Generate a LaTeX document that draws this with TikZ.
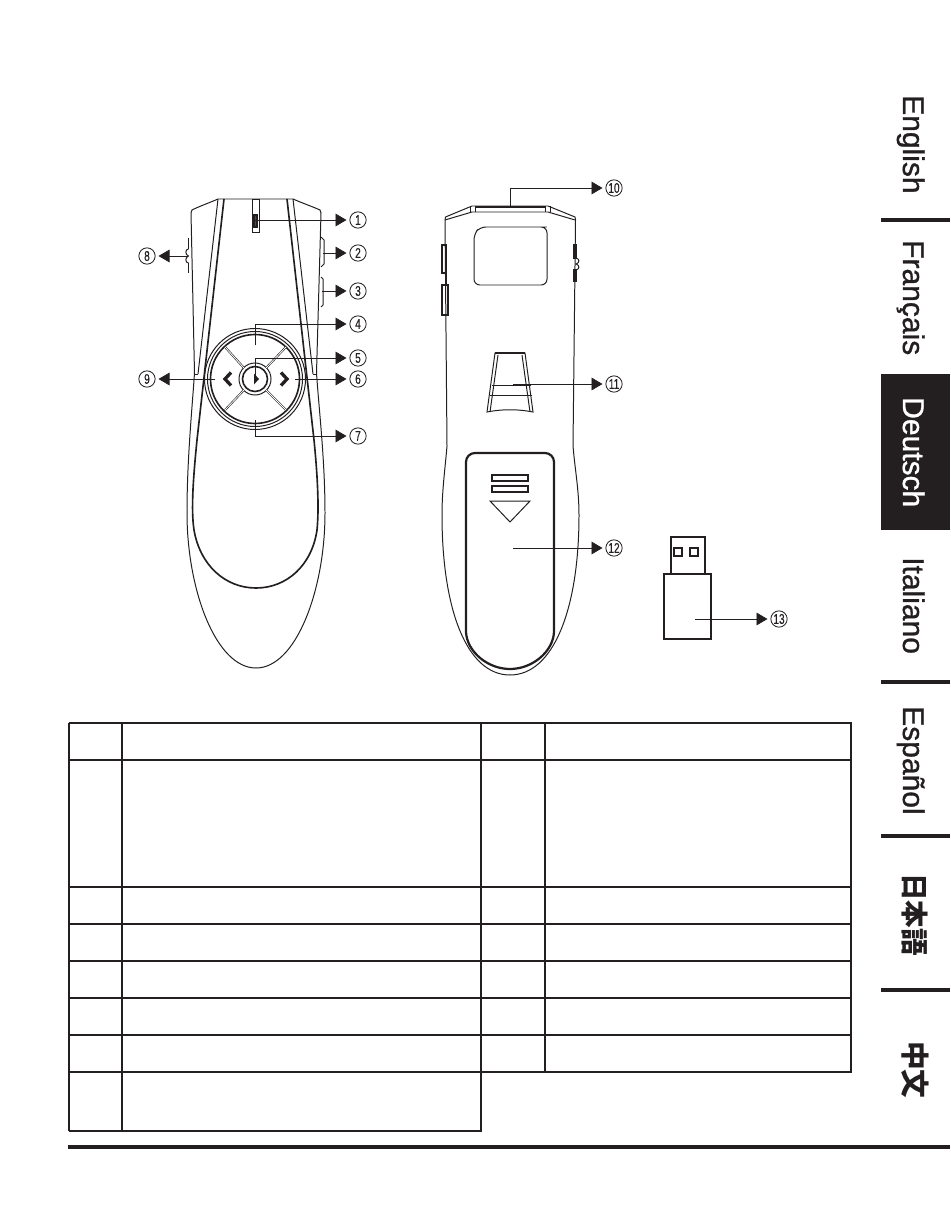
\documentclass[tikz,border=0pt]{standalone}
\usepackage{fontspec}
\setmainfont{Liberation Sans}
\newfontfamily\tabfont{Liberation Sans}[FakeBold=1]
\newfontfamily\numfont{Liberation Sans}[FakeBold=0.2]
\newfontfamily\cjkfont{Noto Sans CJK JP}
\usetikzlibrary{arrows.meta}
\newcommand{\callnum}[1]{\scalebox{0.72}[1]{#1}}
\definecolor{tabdark}{HTML}{231F20}
\tikzset{
    callout/.style={draw=tabdark, circle, line width=0.7pt, inner sep=0pt, minimum size=0.49cm, outer sep=0.1cm, font=\numfont\fontsize{12}{14}\selectfont, text=tabdark},
    leader/.style={-{Triangle[length=0.33cm,width=0.38cm]}, line width=0.6pt, color=tabdark},
    body/.style={line width=0.85pt, color=tabdark},
    heavy/.style={line width=1.4pt, color=tabdark},
    cover/.style={line width=1.9pt, color=tabdark},
    keyline/.style={double, line width=0.5pt, double distance=0.7pt, draw=tabdark},
    tabrule/.style={line width=3.2pt, color=tabdark},
    cellrule/.style={line width=1.5pt, color=tabdark},
    language/.style={rotate=-90, anchor=base west, inner sep=0pt, font=\tabfont\fontsize{25.6}{30}\selectfont, color=tabdark}
}
\begin{document}
\begin{tikzpicture}[x=0.03cm, y=-0.03cm]
    \useasboundingbox (0,0) rectangle (950,1214);

    % Front of the presenter
    \draw[body, line join=round] (191,213) -- (192,210) .. controls (200,206) and (209,203) .. (218,199) -- (293,199)
        .. controls (302,203) and (311,206) .. (320,210) -- (321,213) -- (316.5,373)
        .. controls (319,410) and (325,460) .. (325,513)
        .. controls (325,590) and (296,668) .. (256,668)
        .. controls (216,668) and (187,590) .. (187,513)
        .. controls (187,460) and (192,410) .. (194.5,373) -- cycle;
    \draw[body] (218,199) -- (198,374);
    \draw[body] (293,199) -- (313,374);
    \draw[heavy] (224,199) -- (197,440)
        .. controls (193,480) and (191,510) .. (194,530)
        .. controls (200,565) and (225,588) .. (256,588)
        .. controls (287,588) and (312,565) .. (317,530)
        .. controls (319,510) and (318,480) .. (314,440) -- (287,199);
    \draw[body] (194.5,374) -- (198,374) (313,374) -- (316.5,374);

    % Slot and side keys of the front
    \draw[body] (252,199) rectangle (259,232);
    \draw[heavy, fill=black!70] (254,215) rectangle (257,227);
    \draw[body] (321,237) -- (324,240) -- (324,264) -- (321,267);
    \draw[body] (321,277) -- (323,279) -- (323,305) -- (321,307);
    \draw[heavy] (188.5,238) -- (188.5,249) (188.5,263) -- (188.5,273);
    \draw[body] (188.5,249) .. controls (185,249) and (185,255) .. (188.5,256)
        .. controls (185,257) and (185,263) .. (188.5,263);

    % Round key pad
    \draw[body] (255,379) circle (50.5);
    \draw[body] (255,379) circle (47.5);
    \draw[heavy] (255,379) circle (44.5);
    \draw[body] (255,379) circle (16);
    \draw[heavy] (255,379) circle (12.5);
    \draw[keyline] (225,347) -- (244,368);
    \draw[keyline] (286,347) -- (266,368);
    \draw[keyline] (225,410) -- (244,390);
    \draw[keyline] (286,410) -- (266,390);
    \draw[line width=2.8pt, color=tabdark] (231,372.5) -- (225,379) -- (231,385.5);
    \draw[line width=2.8pt, color=tabdark] (281,372.5) -- (287,379) -- (281,385.5);
    \fill[tabdark] (254,373.5) -- (259,379) -- (254,384.5) -- cycle;

    % Back of the presenter
    \draw[body, line join=round] (445,220) -- (445.5,217) -- (472,206) -- (548,206) -- (575,217) -- (575.5,220) -- (573,446)
        .. controls (575,470) and (579,490) .. (579,515)
        .. controls (579,610) and (553,675) .. (510,675)
        .. controls (467,675) and (442,610) .. (442,515)
        .. controls (442,490) and (445,470) .. (447,446) -- cycle;
    \draw[body] (445,220) -- (472,212) -- (548,212) -- (575,220);
    \draw[line width=1.8pt, color=tabdark] (475,207) -- (545,207);
    \draw[body] (470,206) -- (470,212) (475,206) -- (475,212) (545,206) -- (545,212) (550,206) -- (550,212);
    \draw[body, rounded corners=5] (480,227) -- (541,227) -- (547,227) -- (547,285) -- (474,285) -- (474,234) -- cycle;

    % Side keys of the back
    \draw[heavy] (442,245) rectangle (446,273);
    \draw[heavy] (442,285) rectangle (448,315);
    \draw[body] (446,273) -- (446,285);
    \draw[heavy, fill=black!60] (574,245) rectangle (576,258);
    \draw[heavy, fill=black!60] (574,270) rectangle (576,281);
    \draw[body] (575,258) .. controls (580,258) and (580,263) .. (576,264) .. controls (580,265) and (580,270) .. (575,270);

    % Grip
    \draw[body] (495,353) -- (525,353) -- (533,412) .. controls (518,409) and (502,409) .. (487,412) -- cycle;
    \draw[heavy] (495,353) -- (525,353);
    \draw[body] (498,355) -- (490,412) (522,355) -- (530,412);
    \draw[body] (492,385) -- (531,385) (490,395) -- (532,395);

    % Battery cover
    \draw[cover] (466,632) -- (466,462) arc (180:270:9) -- (545,453) arc (270:360:9) -- (554,632)
        .. controls (553,652) and (532,669) .. (510,669)
        .. controls (488,669) and (467,652) .. (466,632) -- cycle;
    \draw[heavy] (492,475) rectangle (528,481);
    \draw[heavy] (492,486) rectangle (528,492);
    \draw[body] (490,501) -- (530,501) -- (510,522) -- cycle;

    % USB receiver
    \draw[cover, line width=1.4pt] (671,574) -- (671,537) -- (705,537) -- (705,574);
    \draw[cover, line width=1.4pt] (664,574) rectangle (711,639);
    \draw[cover, line width=1.4pt] (674,548) rectangle (682,556);
    \draw[cover, line width=1.4pt] (690,548) rectangle (698,556);

    % Callouts
    \node[callout] (n1) at (358,220) {\callnum{1}};
    \node[callout] (n2) at (358,253) {\callnum{2}};
    \node[callout] (n3) at (358,291) {\callnum{3}};
    \node[callout] (n4) at (358,324) {\callnum{4}};
    \node[callout] (n5) at (358,358) {\callnum{5}};
    \node[callout] (n6) at (358,379) {\callnum{6}};
    \node[callout] (n7) at (358,436) {\callnum{7}};
    \node[callout] (n8) at (147,256) {\callnum{8}};
    \node[callout] (n9) at (147,379) {\callnum{9}};
    \node[callout] (n10) at (614,188) {\callnum{10}};
    \node[callout] (n11) at (614,384) {\callnum{11}};
    \node[callout] (n12) at (614,548) {\callnum{12}};
    \node[callout] (n13) at (779,619) {\callnum{13}};

    % Leader starts
    \coordinate (s1) at (255,220);
    \coordinate (s2) at (323,253);
    \coordinate (s3) at (322,291);
    \coordinate (s4) at (255,345);
    \coordinate (s5) at (255,378);
    \coordinate (s6) at (295,379);
    \coordinate (s7) at (255,420);
    \coordinate (s8) at (188,256);
    \coordinate (s9) at (215,379);
    \coordinate (s10) at (510,208);
    \coordinate (s11) at (513,384);
    \coordinate (s12) at (513,548);
    \coordinate (s13) at (695,619);

    % Leaders
    \draw[leader] (s1) -- (n1);
    \draw[leader] (s2) -- (n2);
    \draw[leader] (s3) -- (n3);
    \draw[leader] (s4) |- (n4);
    \draw[leader] (s5) |- (n5);
    \draw[leader] (s6) -- (n6);
    \draw[leader] (s7) |- (n7);
    \draw[leader] (s8) -- (n8);
    \draw[leader] (s9) -- (n9);
    \draw[leader] (s10) |- (n10);
    \draw[leader] (s11) -- (n11);
    \draw[leader] (s12) -- (n12);
    \draw[leader] (s13) -- (n13);

    % Empty table
    \foreach \y in {723,760,887,924,961,998,1035,1072,1131}
        \draw[cellrule] (68.5,\y) -- (481.5,\y);
    \foreach \y in {723,760,887,924,961,998,1035,1072}
        \draw[cellrule] (481,\y) -- (851.5,\y);
    \foreach \x in {69,122,481}
        \draw[cellrule] (\x,723) -- (\x,1131);
    \foreach \x in {545,851}
        \draw[cellrule] (\x,723) -- (\x,1072);
    \draw[line width=3.2pt, color=tabdark] (68,1147) -- (950,1147);

    % Language tabs
    \fill[tabdark] (881,374) rectangle (950,530);
    \foreach \y in {220,682,836,990}
        \draw[tabrule] (881,\y) -- (950,\y);
    \node[language] (english) at (903,95) {English};
    \node[language] (francais) at (903,240) {Français};
    \node[language, color=white] (deutsch) at (903,397) {Deutsch};
    \node[language] (italiano) at (903,557) {Italiano};
    \node[language] (espanol) at (903,706) {Español};
    \node[language, font=\cjkfont\bfseries\fontsize{23.5}{27}\selectfont] (nihongo) at (904,873) {日本語};
    \node[language, font=\cjkfont\bfseries\fontsize{24.5}{28}\selectfont] (zhongwen) at (904,1041) {中文};
\end{tikzpicture}
\end{document}
